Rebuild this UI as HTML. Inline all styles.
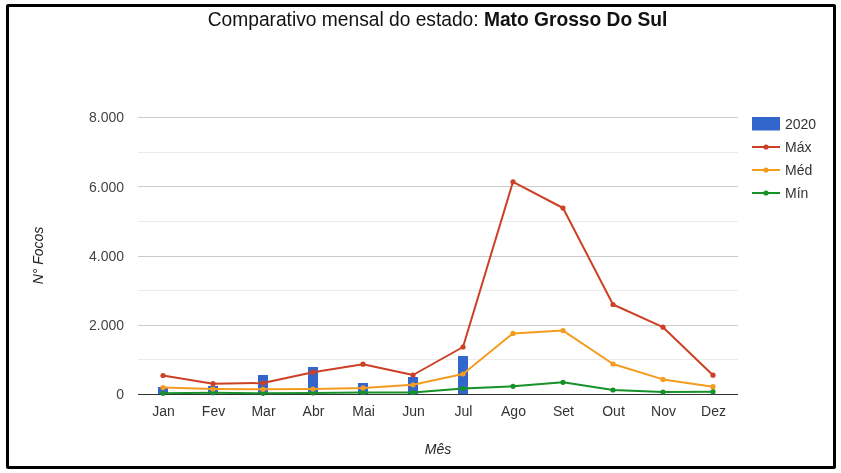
<!DOCTYPE html>
<html lang="pt-BR"><head><meta charset="utf-8"><title>Comparativo mensal</title>
<style>
html,body{margin:0;padding:0;background:#fff;}
body{width:841px;height:473px;overflow:hidden;position:relative;font-family:"Liberation Sans",sans-serif;}
.box{position:absolute;left:6px;top:4px;width:824px;height:459px;border:3px solid #000;border-radius:2px;background:#fff;}
.title{position:absolute;left:0;top:8px;width:875px;text-align:center;font-size:19.2px;color:#111;white-space:nowrap;}
.title b{font-weight:bold;}
svg{position:absolute;left:0;top:0;will-change:transform;}
.title{will-change:transform;transform:scaleY(1.045);transform-origin:50% 4px;}
.ax{font-size:14px;fill:#444;font-family:"Liberation Sans",sans-serif;}
.axx{font-size:14px;fill:#333;font-family:"Liberation Sans",sans-serif;}
.at{font-size:14px;fill:#222;font-style:italic;font-family:"Liberation Sans",sans-serif;}
.lg{font-size:14px;fill:#333;font-family:"Liberation Sans",sans-serif;}
</style></head>
<body>
<div class="box"></div>
<div class="title">Comparativo mensal do estado: <b>Mato Grosso Do Sul</b></div>
<svg width="841" height="473" viewBox="0 0 841 473">
<rect x="138" y="359" width="600" height="1" fill="#ebebeb"/>
<rect x="138" y="325" width="600" height="1" fill="#cccccc"/>
<rect x="138" y="290" width="600" height="1" fill="#ebebeb"/>
<rect x="138" y="256" width="600" height="1" fill="#cccccc"/>
<rect x="138" y="221" width="600" height="1" fill="#ebebeb"/>
<rect x="138" y="186" width="600" height="1" fill="#cccccc"/>
<rect x="138" y="152" width="600" height="1" fill="#ebebeb"/>
<rect x="138" y="117" width="600" height="1" fill="#cccccc"/>
<rect x="158" y="387" width="10" height="7" fill="#3366cc"/>
<rect x="208" y="386" width="10" height="8" fill="#3366cc"/>
<rect x="258" y="375" width="10" height="19" fill="#3366cc"/>
<rect x="308" y="367" width="10" height="27" fill="#3366cc"/>
<rect x="358" y="383" width="10" height="11" fill="#3366cc"/>
<rect x="408" y="377" width="10" height="17" fill="#3366cc"/>
<rect x="458" y="356" width="10" height="38" fill="#3366cc"/>
<rect x="138" y="394" width="600" height="1" fill="#333333"/>
<polyline points="163.0,393.3 213.0,392.8 263.0,393.3 313.0,393.0 363.0,392.6 413.0,392.6 463.0,388.5 513.0,386.3 563.0,382.3 613.0,390.0 663.0,392.0 713.0,391.7" fill="none" stroke="#17912a" stroke-width="2" stroke-linejoin="round"/><circle cx="163.0" cy="393.3" r="2.6" fill="#17912a"/><circle cx="213.0" cy="392.8" r="2.6" fill="#17912a"/><circle cx="263.0" cy="393.3" r="2.6" fill="#17912a"/><circle cx="313.0" cy="393.0" r="2.6" fill="#17912a"/><circle cx="363.0" cy="392.6" r="2.6" fill="#17912a"/><circle cx="413.0" cy="392.6" r="2.6" fill="#17912a"/><circle cx="463.0" cy="388.5" r="2.6" fill="#17912a"/><circle cx="513.0" cy="386.3" r="2.6" fill="#17912a"/><circle cx="563.0" cy="382.3" r="2.6" fill="#17912a"/><circle cx="613.0" cy="390.0" r="2.6" fill="#17912a"/><circle cx="663.0" cy="392.0" r="2.6" fill="#17912a"/><circle cx="713.0" cy="391.7" r="2.6" fill="#17912a"/>
<polyline points="163.0,387.6 213.0,389.0 263.0,389.3 313.0,389.1 363.0,387.9 413.0,384.8 463.0,374.0 513.0,333.4 563.0,330.6 613.0,364.0 663.0,379.4 713.0,386.7" fill="none" stroke="#f39c1f" stroke-width="2" stroke-linejoin="round"/><circle cx="163.0" cy="387.6" r="2.6" fill="#f39c1f"/><circle cx="213.0" cy="389.0" r="2.6" fill="#f39c1f"/><circle cx="263.0" cy="389.3" r="2.6" fill="#f39c1f"/><circle cx="313.0" cy="389.1" r="2.6" fill="#f39c1f"/><circle cx="363.0" cy="387.9" r="2.6" fill="#f39c1f"/><circle cx="413.0" cy="384.8" r="2.6" fill="#f39c1f"/><circle cx="463.0" cy="374.0" r="2.6" fill="#f39c1f"/><circle cx="513.0" cy="333.4" r="2.6" fill="#f39c1f"/><circle cx="563.0" cy="330.6" r="2.6" fill="#f39c1f"/><circle cx="613.0" cy="364.0" r="2.6" fill="#f39c1f"/><circle cx="663.0" cy="379.4" r="2.6" fill="#f39c1f"/><circle cx="713.0" cy="386.7" r="2.6" fill="#f39c1f"/>
<polyline points="163.0,375.5 213.0,383.7 263.0,383.0 313.0,372.2 363.0,364.2 413.0,375.0 463.0,347.0 513.0,181.8 563.0,208.0 613.0,304.5 663.0,327.2 713.0,375.2" fill="none" stroke="#cc4125" stroke-width="2" stroke-linejoin="round"/><circle cx="163.0" cy="375.5" r="2.6" fill="#cc4125"/><circle cx="213.0" cy="383.7" r="2.6" fill="#cc4125"/><circle cx="263.0" cy="383.0" r="2.6" fill="#cc4125"/><circle cx="313.0" cy="372.2" r="2.6" fill="#cc4125"/><circle cx="363.0" cy="364.2" r="2.6" fill="#cc4125"/><circle cx="413.0" cy="375.0" r="2.6" fill="#cc4125"/><circle cx="463.0" cy="347.0" r="2.6" fill="#cc4125"/><circle cx="513.0" cy="181.8" r="2.6" fill="#cc4125"/><circle cx="563.0" cy="208.0" r="2.6" fill="#cc4125"/><circle cx="613.0" cy="304.5" r="2.6" fill="#cc4125"/><circle cx="663.0" cy="327.2" r="2.6" fill="#cc4125"/><circle cx="713.0" cy="375.2" r="2.6" fill="#cc4125"/>
<text x="124" y="399.0" text-anchor="end" class="ax">0</text>
<text x="124" y="329.9" text-anchor="end" class="ax">2.000</text>
<text x="124" y="260.7" text-anchor="end" class="ax">4.000</text>
<text x="124" y="191.5" text-anchor="end" class="ax">6.000</text>
<text x="124" y="122.4" text-anchor="end" class="ax">8.000</text>
<text x="163.5" y="416" text-anchor="middle" class="axx">Jan</text>
<text x="213.5" y="416" text-anchor="middle" class="axx">Fev</text>
<text x="263.5" y="416" text-anchor="middle" class="axx">Mar</text>
<text x="313.5" y="416" text-anchor="middle" class="axx">Abr</text>
<text x="363.5" y="416" text-anchor="middle" class="axx">Mai</text>
<text x="413.5" y="416" text-anchor="middle" class="axx">Jun</text>
<text x="463.5" y="416" text-anchor="middle" class="axx">Jul</text>
<text x="513.5" y="416" text-anchor="middle" class="axx">Ago</text>
<text x="563.5" y="416" text-anchor="middle" class="axx">Set</text>
<text x="613.5" y="416" text-anchor="middle" class="axx">Out</text>
<text x="663.5" y="416" text-anchor="middle" class="axx">Nov</text>
<text x="713.5" y="416" text-anchor="middle" class="axx">Dez</text>
<text x="438" y="454" text-anchor="middle" class="at">Mês</text>
<text transform="translate(43,255.5) rotate(-90)" text-anchor="middle" class="at">N° Focos</text>
<rect x="752" y="117" width="28" height="13.5" fill="#3366cc"/>
<text x="785" y="129.3" class="lg">2020</text>
<rect x="752" y="146" width="28" height="2" fill="#cc4125"/>
<circle cx="766" cy="147" r="2.6" fill="#cc4125"/>
<text x="785" y="152.0" class="lg">Máx</text>
<rect x="752" y="169" width="28" height="2" fill="#f39c1f"/>
<circle cx="766" cy="170" r="2.6" fill="#f39c1f"/>
<text x="785" y="175.0" class="lg">Méd</text>
<rect x="752" y="192" width="28" height="2" fill="#17912a"/>
<circle cx="766" cy="193" r="2.6" fill="#17912a"/>
<text x="785" y="198.0" class="lg">Mín</text>
</svg>
</body></html>
